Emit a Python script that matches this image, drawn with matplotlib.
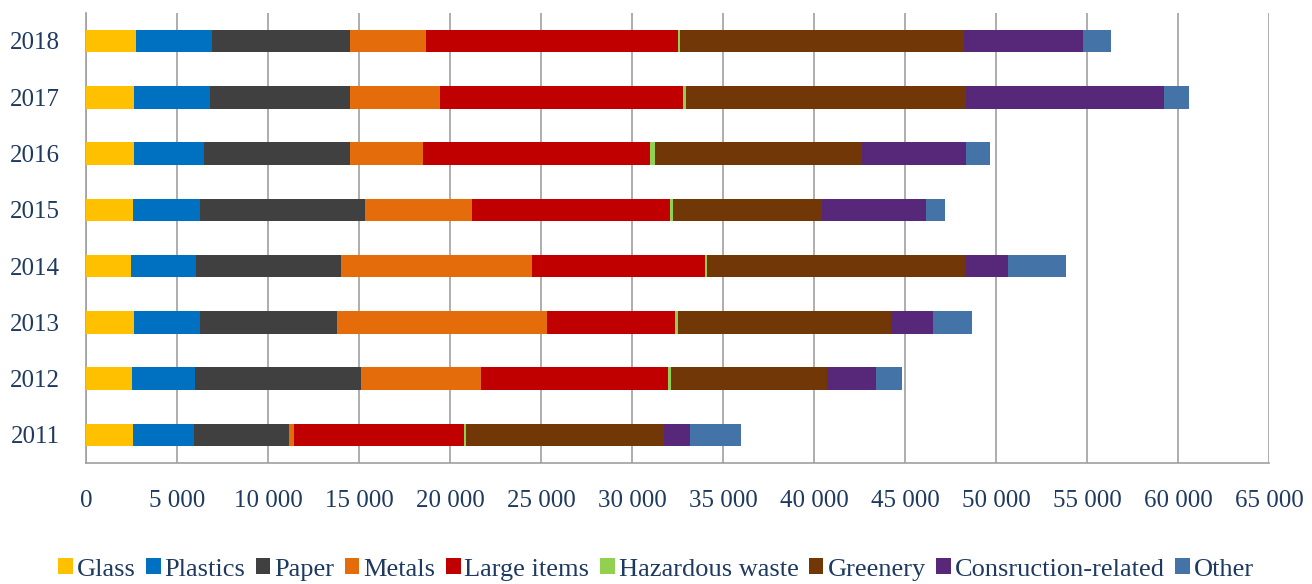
import numpy as np
import matplotlib.pyplot as plt
from matplotlib.ticker import FuncFormatter, MultipleLocator

years = ['2011', '2012', '2013', '2014', '2015', '2016', '2017', '2018']
categories = ['Glass', 'Plastics', 'Paper', 'Metals', 'Large items',
              'Hazardous waste', 'Greenery', 'Consruction-related', 'Other']

glass = [2580, 2530, 2650, 2470, 2580, 2650, 2650, 2760]
plastics = [3340, 3480, 3590, 3590, 3660, 3850, 4170, 4130]
paper = [5210, 9080, 7520, 7950, 9060, 7970, 7700, 7630]
metals = [300, 6590, 11540, 10510, 5900, 4010, 4930, 4170]
large_items = [9310, 10310, 7020, 9470, 10870, 12520, 13320, 13830]
hazardous = [140, 130, 170, 120, 170, 250, 170, 100]
greenery = [10870, 8600, 11720, 14140, 8180, 11350, 15410, 15580]
construction = [1440, 2650, 2320, 2400, 5710, 5710, 10880, 6560]
other = [2800, 1470, 2120, 3190, 1030, 1320, 1370, 1550]

series = [glass, plastics, paper, metals, large_items, hazardous,
          greenery, construction, other]
colors = ['#FFC000', '#0070C0', '#404040', '#E46C0A', '#C00000',
          '#92D050', '#713706', '#572779', '#4473A8']

text_color = '#1F3A60'
plt.rcParams['font.family'] = ['Liberation Serif', 'DejaVu Serif']

fig = plt.figure(figsize=(13.12, 5.84), dpi=100)
ax = fig.add_axes([0.0656, 0.207, 0.902, 0.771])

y = np.arange(len(years))
left = np.zeros(len(years))
for name, vals, c in zip(categories, series, colors):
    ax.barh(y, vals, left=left, height=0.4, color=c, label=name, zorder=3)
    left += np.array(vals)

ax.set_xlim(0, 65000)
ax.set_ylim(-0.5, 7.5)
ax.set_yticks(y)
ax.set_yticklabels(years)
ax.xaxis.set_major_locator(MultipleLocator(5000))
ax.xaxis.set_major_formatter(FuncFormatter(lambda v, p: f'{int(v):,}'.replace(',', ' ')))

ax.grid(axis='x', color='#A0A0A0', linewidth=1.2, zorder=0)
for s in ['top', 'right']:
    ax.spines[s].set_visible(False)
for s in ['left', 'bottom']:
    ax.spines[s].set_color('#A0A0A0')
    ax.spines[s].set_linewidth(1.2)
ax.tick_params(axis='both', length=0, labelsize=18, colors=text_color)
ax.tick_params(axis='x', pad=19)
ax.tick_params(axis='y', pad=19)

fig.legend(loc='lower center', bbox_to_anchor=(0.5, -0.035), ncol=9,
           frameon=False, fontsize=19, handlelength=0.55, handleheight=0.55,
           handletextpad=0.15, columnspacing=0.4, labelcolor=text_color)

fig.savefig('out.png', dpi=100)
